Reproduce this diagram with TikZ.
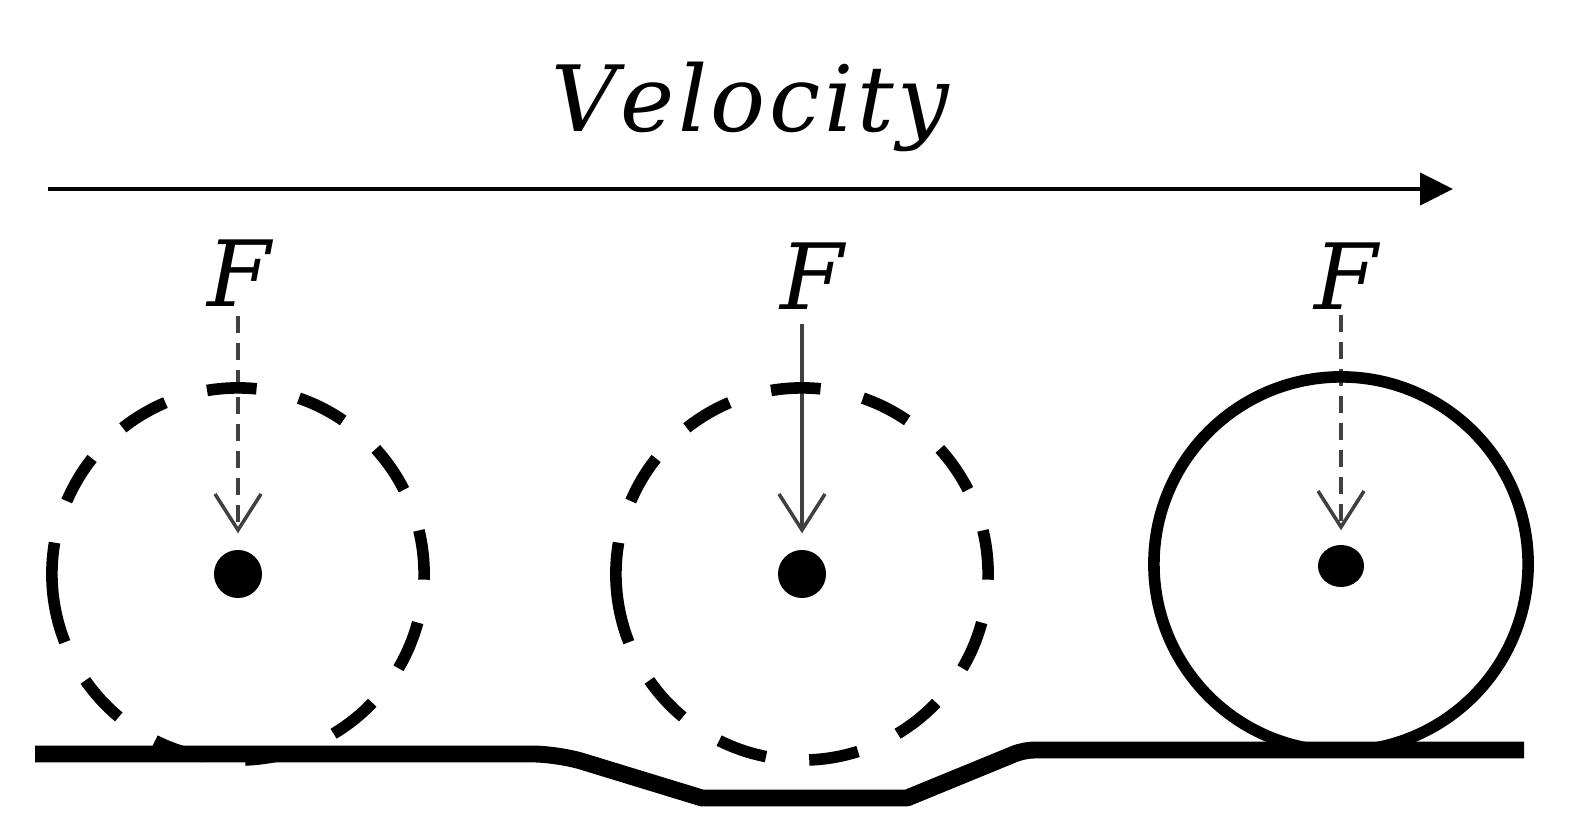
\documentclass[tikz,border=0pt]{standalone}
\usepackage{fontspec}
\newfontfamily\labelfont{DejaVu Serif}
\usetikzlibrary{arrows.meta,shapes.geometric}
\newcommand\lsp{\kern1.0pt}
\begin{document}
\begin{tikzpicture}[x=0.01cm,y=0.01cm,
  wheel/.style={line width=3.3pt, line cap=butt},
  groundline/.style={line width=4.8pt, line join=round, line cap=butt},
  dotc/.style={circle, fill=black, inner sep=0pt, minimum size=0.48cm},
  lbl/.style={font=\fontsize{26}{30}\selectfont\labelfont\itshape, inner sep=0pt, anchor=base},
  force/.style={line width=1pt, draw=black!75, -{Straight Barb[length=0.36cm,width=0.46cm]}},
  fdash/.style={dash pattern=on 4.8pt off 2.9pt},
]
\useasboundingbox (0,0) rectangle (1577,824);
% velocity label and arrow
\node[lbl] (vel) at (750,692) {V\lsp e\lsp l\lsp o\lsp c\lsp i\lsp t\lsp y};
\coordinate (vs) at (48,635);
\coordinate (ve) at (1453,635);
\draw[line width=1.2pt, -{Triangle[length=0.33cm,width=0.32cm]}] (vs) -- (ve);
% centres
\node[dotc] (d1) at (238,250) {};
\node[dotc] (d2) at (802,250) {};
\node[ellipse, fill=black, inner sep=0pt, minimum width=0.46cm, minimum height=0.42cm] (d3) at (1341,258) {};
% force labels
\node[lbl] (F1) at (239,517) {F};
\node[lbl] (F2) at (812,514) {F};
\node[lbl] (F3) at (1346,514) {F};
% force arrows
\draw[force, fdash, shorten <=0.08cm, shorten >=0.16cm] (F1.south -| d1) -- (d1.north);
\draw[force, shorten <=0.13cm, shorten >=0.16cm] (F2.south -| d2) -- (d2.north);
\draw[force, fdash, shorten <=0.04cm, shorten >=0.14cm] (F3.south -| d3) -- (d3.north);
% dashed wheels
\foreach \c in {d1,d2}{
  \foreach \k in {0,...,10}{
    \pgfmathsetmacro\a{-145.125+28.675*\k}
    \draw[wheel] (\c) ++(\a:1.86cm) arc[start angle=\a, delta angle=15.3, radius=1.86cm];
  }
  \draw[wheel] (\c) ++(170.3:1.86cm) arc[start angle=170.3, end angle=201.5, radius=1.86cm];
}
% solid wheel
\draw[wheel] (1341,260) circle[radius=1.87cm];
% ground
\draw[groundline] (35,70) [rounded corners=0.25cm] -- (558,70) [sharp corners] -- (702,26) -- (907,26) [rounded corners=0.1cm] -- (1024,74) -- (1524,74);
\end{tikzpicture}
\end{document}
